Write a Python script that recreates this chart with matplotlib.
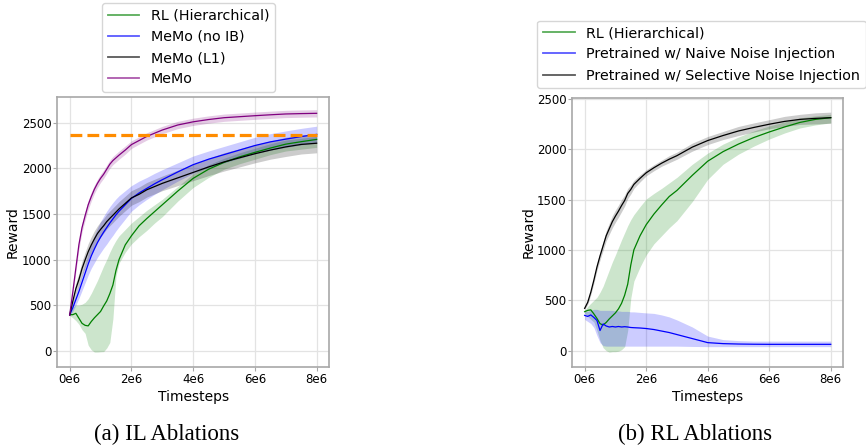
# IL / RL ablation reward curves, two panels with LaTeX-style sub-captions
import matplotlib
matplotlib.use("Agg")
import matplotlib.pyplot as plt
import numpy as np
from matplotlib.lines import Line2D
from matplotlib.ticker import FuncFormatter

# timesteps (millions), shared by every series
T = [0, 0.1, 0.2, 0.3, 0.4, 0.5, 0.6, 0.7, 0.8, 0.9, 1.0, 1.1, 1.2, 1.3, 1.4, 1.5,
     1.6, 1.8, 2.0, 2.25, 2.5, 2.75, 3.0, 3.5, 4.0, 4.5, 5.0, 5.5, 6.0, 6.5, 7.0,
     7.5, 8.0]

# ---- (a) IL ablations ----
il_rl = [395, 395, 410, 355, 300, 278, 272, 320, 360, 395, 430, 490, 545, 625, 720,
         880, 1000, 1160, 1260, 1370, 1450, 1525, 1600, 1750, 1890, 1990, 2065,
         2125, 2175, 2222, 2265, 2292, 2317]
il_rl_lo = [385, 360, 330, 290, 230, 190, 60, 10, -15, -15, -12, -10, 30, 90, 350,
            820, 960, 1080, 1170, 1250, 1320, 1400, 1470, 1640, 1790, 1900, 1990,
            2050, 2100, 2150, 2190, 2210, 2230]
il_rl_hi = [400, 480, 500, 500, 510, 530, 570, 630, 700, 770, 850, 930, 1000, 1080,
            1150, 1210, 1260, 1330, 1400, 1470, 1540, 1600, 1660, 1800, 1940, 2040,
            2110, 2170, 2220, 2270, 2310, 2330, 2350]
il_noib = [395, 470, 560, 650, 750, 850, 950, 1040, 1115, 1185, 1245, 1300, 1350,
           1400, 1445, 1490, 1530, 1600, 1670, 1730, 1780, 1830, 1875, 1960, 2040,
           2100, 2150, 2200, 2250, 2290, 2320, 2348, 2372]
il_noib_sd = [10, 40, 60, 75, 90, 105, 120, 135, 150, 160, 170, 175, 180, 180, 180,
              175, 170, 155, 140, 130, 120, 115, 110, 100, 95, 90, 90, 90, 90, 90,
              90, 90, 90]
il_l1 = [391, 540, 680, 780, 900, 995, 1085, 1160, 1225, 1285, 1330, 1370, 1415,
         1451, 1485, 1520, 1555, 1615, 1675, 1715, 1765, 1800, 1835, 1895, 1955,
         2015, 2070, 2115, 2160, 2200, 2235, 2262, 2275]
il_l1_sd = [10, 40, 60, 70, 80, 85, 90, 90, 90, 85, 85, 80, 80, 80, 80, 80, 80, 80,
            80, 80, 80, 80, 80, 85, 90, 95, 100, 100, 100, 100, 105, 105, 105]
il_memo = [390, 640, 905, 1165, 1350, 1480, 1600, 1690, 1770, 1835, 1890, 1935,
           1990, 2045, 2085, 2115, 2145, 2200, 2260, 2305, 2350, 2385, 2420, 2475,
           2510, 2535, 2555, 2566, 2577, 2587, 2596, 2600, 2603]
il_memo_sd = [10, 30, 45, 50, 50, 50, 50, 48, 46, 45, 45, 45, 45, 45, 45, 45, 45,
              45, 42, 40, 40, 40, 40, 40, 40, 40, 40, 40, 40, 40, 40, 40, 40]
il_expert = 2365

# ---- (b) RL ablations ----
rl_rl = [387, 400, 405, 365, 320, 268, 255, 280, 315, 345, 375, 415, 470, 550, 660,
         850, 1000, 1140, 1250, 1355, 1445, 1530, 1590, 1740, 1880, 1975, 2050,
         2115, 2170, 2220, 2265, 2295, 2312]
rl_rl_lo = [375, 340, 310, 285, 200, 100, 30, 0, -15, -10, -10, -5, 10, 40, 200,
            520, 690, 830, 950, 1060, 1140, 1220, 1290, 1480, 1700, 1850, 1950,
            2030, 2100, 2160, 2210, 2240, 2260]
rl_rl_hi = [400, 440, 470, 500, 530, 580, 640, 720, 800, 880, 950, 1025, 1100, 1170,
            1240, 1300, 1350, 1430, 1505, 1560, 1610, 1665, 1720, 1850, 1960, 2050,
            2120, 2180, 2230, 2270, 2310, 2330, 2345]
rl_naive = [350, 340, 355, 330, 300, 200, 265, 245, 235, 240, 235, 240, 235, 238,
            235, 230, 228, 225, 220, 210, 195, 180, 160, 120, 80, 70, 66, 64, 63,
            63, 63, 63, 63]
rl_naive_lo = [310, 290, 270, 230, 150, 80, 50, 45, 45, 45, 45, 45, 45, 45, 45, 45,
               45, 45, 45, 45, 45, 45, 45, 42, 40, 40, 40, 40, 40, 40, 40, 40, 40]
rl_naive_hi = [390, 390, 400, 410, 410, 400, 400, 400, 400, 400, 395, 395, 390, 390,
               390, 385, 385, 380, 375, 370, 355, 335, 305, 235, 145, 110, 100, 95,
               95, 95, 95, 95, 95]
rl_sel = [420, 480, 580, 700, 830, 940, 1040, 1140, 1210, 1280, 1335, 1385, 1440,
          1490, 1560, 1600, 1650, 1710, 1765, 1815, 1860, 1900, 1935, 2020, 2085,
          2135, 2180, 2215, 2247, 2275, 2295, 2305, 2312]
rl_sel_sd = [10, 20, 25, 30, 35, 40, 45, 50, 55, 60, 60, 60, 60, 55, 50, 45, 40, 35,
             30, 30, 30, 35, 35, 40, 40, 40, 45, 45, 45, 50, 50, 55, 55]

IL_LABELS = ["RL (Hierarchical)", "MeMo (no IB)", "MeMo (L1)", "MeMo"]
RL_LABELS = ["RL (Hierarchical)", "Pretrained w/ Naive Noise Injection",
             "Pretrained w/ Selective Noise Injection"]


def _band(ax, t, mean, lo, hi, color):
    ax.fill_between(t, lo, hi, color=color, alpha=0.2, linewidth=0)
    ax.plot(t, mean, color=color, linewidth=0.9)


def _style(ax, ylab_x):
    ax.grid(True, color="#e3e3e3", linewidth=0.9)
    ax.set_axisbelow(True)
    for sp in ax.spines.values():
        sp.set_color("#a8a8a8")
        sp.set_linewidth(1.2)
    ax.set_xticks([0, 2e6, 4e6, 6e6, 8e6])
    ax.xaxis.set_major_formatter(FuncFormatter(lambda v, _: f"{v / 1e6:.0f}e6"))
    ax.set_yticks([0, 500, 1000, 1500, 2000, 2500])
    ax.tick_params(labelsize=8.5, length=3, pad=1.2, color="#a8a8a8")
    ax.set_xlabel("Timesteps", fontsize=10)
    ax.set_ylabel("Reward", fontsize=10)
    ax.xaxis.set_label_coords(0.5, -0.085)
    ax.yaxis.set_label_coords(ylab_x, 0.5)
    ax.set_xlim(-0.4e6, 8.4e6)


def _legend(fig, colors, labels, x, y):
    handles = [Line2D([], [], color=c, linewidth=1.3, alpha=0.65) for c in colors]
    fig.legend(handles, labels, loc="upper left", bbox_to_anchor=(x, y),
               bbox_transform=fig.transFigure, borderaxespad=0, fontsize=10.3,
               handlelength=2.2, handletextpad=0.8, labelspacing=0.5)


def main() -> None:
    t = np.array(T) * 1e6
    fig = plt.figure(figsize=(8.66, 4.46), dpi=100)

    ax1 = fig.add_axes([0.0662, 0.1771, 0.3137, 0.6054])
    _band(ax1, t, il_rl, il_rl_lo, il_rl_hi, "green")
    for mean, sd, c in [(il_noib, il_noib_sd, "blue"), (il_l1, il_l1_sd, "black"),
                        (il_memo, il_memo_sd, "purple")]:
        m, s = np.array(mean), np.array(sd)
        _band(ax1, t, m, m - s, m + s, c)
    ax1.plot([t[0], t[-1]], [il_expert, il_expert], color="darkorange",
             linewidth=2.3, linestyle="--")
    _style(ax1, -0.137)
    ax1.set_ylim(-179, 2782)

    ax2 = fig.add_axes([0.6609, 0.1771, 0.3126, 0.6038])
    _band(ax2, t, rl_rl, rl_rl_lo, rl_rl_hi, "green")
    _band(ax2, t, rl_naive, rl_naive_lo, rl_naive_hi, "blue")
    m, s = np.array(rl_sel), np.array(rl_sel_sd)
    _band(ax2, t, m, m - s, m + s, "black")
    _style(ax2, -0.134)
    ax2.set_ylim(-162, 2510)

    _legend(fig, ["green", "blue", "black", "purple"], IL_LABELS, 0.1178, 0.993)
    _legend(fig, ["green", "blue", "black"], RL_LABELS, 0.6205, 0.954)

    cap = dict(fontsize=16.5, family="Liberation Serif", ha="center", va="center")
    fig.text(167 / 866, 1 - 434 / 446, "(a) IL Ablations", **cap)
    fig.text(695 / 866, 1 - 434 / 446, "(b) RL Ablations", **cap)

    fig.savefig("out.png", dpi=100)
    plt.close(fig)


if __name__ == "__main__":
    main()
